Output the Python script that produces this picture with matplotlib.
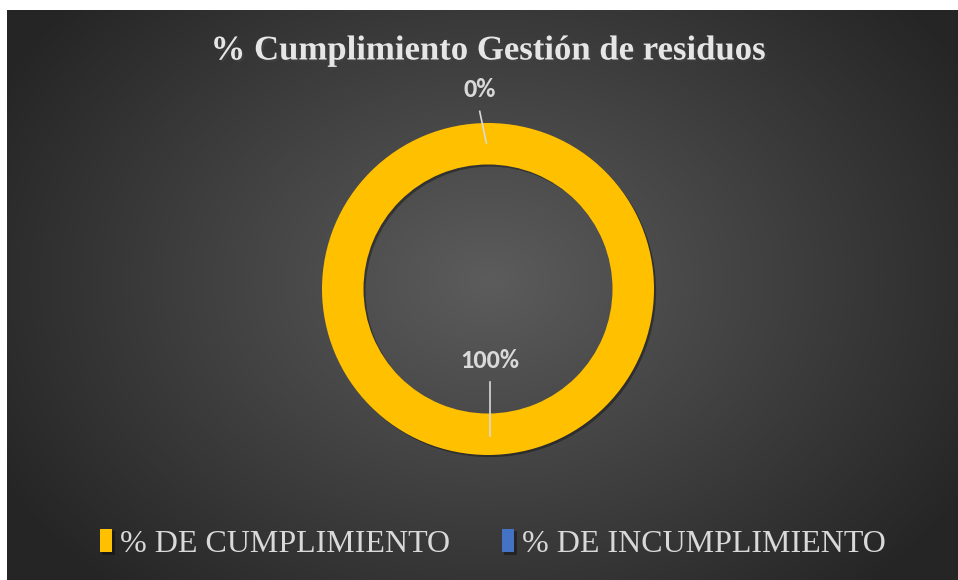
import matplotlib.pyplot as plt
import matplotlib.patheffects as pe
import numpy as np

# datos del grafico
categorias = ["% DE CUMPLIMIENTO", "% DE INCUMPLIMIENTO"]
valores = [100, 0]
colores = ["#FFC000", "#4472C4"]
titulo = "% Cumplimiento Gestión de residuos"

fig = plt.figure(figsize=(9.58, 5.80), dpi=100, facecolor="white")

# fondo con degradado radial
bg = fig.add_axes([7 / 958, 0, 951 / 958, 570 / 580])
yy, xx = np.mgrid[0:570, 0:951]
dist = np.sqrt(((xx - 481) / 560.0) ** 2 + ((yy - 270) / 420.0) ** 2)
grad = np.clip(dist, 0, 1)
c_centro = np.array([0x5c, 0x5c, 0x5c]) / 255
c_borde = np.array([0x25, 0x25, 0x25]) / 255
img = c_centro[None, None, :] * (1 - grad[..., None]) + c_borde[None, None, :] * grad[..., None]
bg.imshow(img, aspect="auto", extent=[0, 1, 0, 1])
bg.axis("off")

# dona
R = 166.0
half = 1.6
ax = fig.add_axes([(488 - half * R) / 958, (580 - 289 - half * R) / 580,
                   2 * half * R / 958, 2 * half * R / 580])

wedges, _ = ax.pie(valores, colors=colores, startangle=90, counterclock=False,
                   radius=1.0, wedgeprops=dict(width=0.25, edgecolor="none"))
for w in wedges:
    w.set_path_effects([pe.SimplePatchShadow(offset=(1.5, -1.5), shadow_rgbFace="black", alpha=0.35),
                        pe.Normal()])
ax.set_xlim(-half, half)
ax.set_ylim(-half, half)
ax.set_aspect("equal")
ax.axis("off")

# etiquetas con lineas guia
etiquetas = [f"{v}%" for v in valores]
estilo = dict(color="#D9D9D9", fontsize=19, fontweight="bold",
              family="Carlito", ha="center", va="center")
for w, txt in zip(wedges, etiquetas):
    ang = np.deg2rad((w.theta1 + w.theta2) / 2)
    if w.theta2 - w.theta1 < 1:
        # segmento vacio: etiqueta fuera
        ax.plot([-0.01, -0.05], [0.88, 1.07], color="#D9D9D9", lw=1.2)
        ax.text(-0.05, 1.2, txt, **estilo)
    else:
        y0 = np.sin(ang)
        ax.plot([0.01, 0.01], [0.885 * y0, 0.56 * y0], color="#D9D9D9", lw=1.2)
        ax.text(0.01, 0.43 * y0, txt, **estilo)

fig.text(488 / 958, 1 - 51 / 580, titulo, ha="center", va="center",
         fontsize=25, fontweight="bold", family="Liberation Serif", color="#E6E6E6",
         path_effects=[pe.withSimplePatchShadow(offset=(1.5, -1.5), alpha=0.5)])

fig.legend(wedges, categorias, loc="center", bbox_to_anchor=(493 / 958, 36 / 580),
           ncol=2, frameon=False, labelcolor="#D9D9D9",
           prop=dict(family="Liberation Serif", size=23),
           handlelength=0.4, handleheight=0.75, handletextpad=0.25, columnspacing=1.6)

fig.savefig("out.png", dpi=100, facecolor="white")
